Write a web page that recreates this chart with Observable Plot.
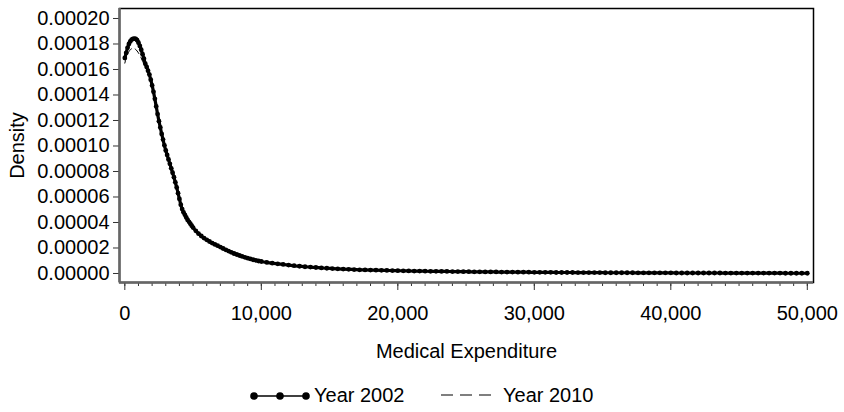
<!DOCTYPE html>
<html>
<head>
<meta charset="utf-8">
<script src="https://cdn.jsdelivr.net/npm/d3@7"></script>
<script src="https://cdn.jsdelivr.net/npm/@observablehq/plot@0.6"></script>
<style>
  html, body { margin: 0; padding: 0; background: #fff; }
  #wrap { position: relative; width: 844px; height: 412px; font-family: "Liberation Sans", Arial, sans-serif; }
  #legend { position: relative; width: 844px; height: 37px; font-size: 20px; color: #000; }
  #legend .lab { position: absolute; top: 8px; line-height: 24px; }
  #legend svg { position: absolute; }
</style>
</head>
<body>
<div id="wrap">
  <div id="chart"></div>
  <div id="legend">
    <svg style="left:249px;top:16px" width="64" height="10">
      <line x1="5" y1="5" x2="58" y2="5" stroke="#000" stroke-width="1.5"/>
      <circle cx="5" cy="5" r="3.8" fill="#000"/>
      <circle cx="31" cy="5" r="3.8" fill="#000"/>
      <circle cx="57" cy="5" r="3.8" fill="#000"/>
    </svg>
    <span class="lab" style="left:314px">Year 2002</span>
    <svg style="left:440px;top:16px" width="60" height="10">
      <line x1="1" y1="4" x2="56" y2="4" stroke="#000" stroke-width="1.2" stroke-dasharray="12,7"/>
    </svg>
    <span class="lab" style="left:503px">Year 2010</span>
  </div>
</div>
<script>
// Evaluation grid of medical expenditure (US$)
const expenditure2002 = [
  ...d3.range(0, 5000, 100),
  ...d3.range(5000, 10000, 200),
  ...d3.range(10000, 50001, 400)
];
// Density ×10^4, Year 2002
const density2002E4 = [
  1.69,1.73,1.77,1.80,1.82,1.835,1.84,1.842,1.84,1.83,
  1.81,1.785,1.755,1.72,1.685,1.645,1.62,1.59,1.56,1.52,
  1.475,1.425,1.37,1.31,1.25,1.195,1.145,1.095,1.05,1.005,
  0.965,0.93,0.895,0.86,0.825,0.79,0.755,0.715,0.675,0.63,
  0.585,0.54,0.505,0.48,0.46,0.44,0.42,0.405,0.39,0.375,
  0.36,0.335,0.312,0.294,0.278,0.264,0.251,0.239,0.228,0.218,
  0.207,0.196,0.186,0.176,0.166,0.157,0.149,0.141,0.134,0.127,
  0.12,0.114,0.108,0.103,0.098,
  0.094,0.087,0.081,0.076,0.071,0.066,0.061,0.057,0.053,0.050,
  0.047,0.044,0.041,0.039,0.037,0.035,0.033,0.031,0.029,0.028,
  0.027,0.026,0.025,0.024,0.023,0.022,0.021,0.020,0.019,0.019,
  0.018,0.017,0.017,0.016,0.016,0.015,0.015,0.014,0.014,0.013,
  0.013,0.012,0.012,0.012,0.011,0.011,0.011,0.010,0.010,0.010,
  0.009,0.009,0.009,0.009,0.008,0.008,0.008,0.008,0.007,0.007,
  0.007,0.007,0.007,0.006,0.006,0.006,0.006,0.006,0.006,0.005,
  0.005,0.005,0.005,0.005,0.005,0.005,0.004,0.004,0.004,0.004,
  0.004,0.004,0.004,0.004,0.004,0.003,0.003,0.003,0.003,0.003,
  0.003,0.003,0.003,0.003,0.003,0.003,0.002,0.002,0.002,0.002,
  0.002
];
// Year 2010
const expenditure2010 = [0,100,200,300,400,500,600,700,800,900,1000,1100,1200,1300,1400,1500,1600,1700,1800,1900,2000,
  2200,2400,2600,2800,3000,3400,3800,4200,4600,5000,6000,7000,8000,9000,10000,
  12000,14000,16000,18000,20000,25000,30000,35000,40000,45000,50000];
const density2010E4 = [
  1.65,1.69,1.72,1.74,1.755,1.763,1.766,1.764,1.757,1.745,
  1.73,1.71,1.69,1.665,1.645,1.632,1.62,1.59,1.56,1.52,
  1.475,1.37,1.25,1.145,1.05,0.965,0.825,0.675,0.505,0.42,
  0.36,0.264,0.207,0.157,0.12,0.094,0.066,0.047,0.035,0.027,
  0.022,0.0145,0.0095,0.0068,0.005,0.0035,0.0022
];
const xTicks = [0, 10000, 20000, 30000, 40000, 50000];
const xMinorTicks = d3.range(0, 50001, 1000);
const yTicks = [0, 0.00002, 0.00004, 0.00006, 0.00008, 0.00010, 0.00012, 0.00014, 0.00016, 0.00018, 0.00020];

const d2002 = expenditure2002.map((x, i) => ({x, y: density2002E4[i] / 1e4}));
const d2010 = expenditure2010.map((x, i) => ({x, y: density2010E4[i] / 1e4}));

const xDomain = [-390, 50454];
const yDomain = [-0.00000706, 0.00020784];

const chart = Plot.plot({
  width: 844,
  height: 375,
  marginTop: 8,
  marginBottom: 93,
  marginLeft: 119,
  marginRight: 31,
  style: { fontFamily: "'Liberation Sans', Arial, sans-serif", fontSize: "20px", color: "#000", background: "#fff", overflow: "visible" },
  x: { domain: xDomain },
  y: { domain: yDomain },
  marks: [
    Plot.axisY({ ticks: yTicks, tickSize: 6, tickPadding: 4, tickFormat: d3.format(".5f"), stroke: "#333",
      label: "Density", labelAnchor: "center", labelArrow: false, labelOffset: 110 }),
    Plot.axisX({ ticks: xMinorTicks, tickSize: 4, tickFormat: () => "", stroke: "#333", label: null }),
    Plot.axisX({ ticks: xTicks, tickSize: 8, tickPadding: 15, tickFormat: d3.format(","), stroke: "#333",
      label: "Medical Expenditure", labelAnchor: "center", labelArrow: false, labelOffset: 75 }),
    Plot.frame({ stroke: "#000", strokeWidth: 1.5 }),
    Plot.ruleX([xDomain[0]], { stroke: "#666", strokeWidth: 2.5 }),
    Plot.ruleY([yDomain[0]], { stroke: "#666", strokeWidth: 2.5 }),
    Plot.line(d2010, { x: "x", y: "y", stroke: "#000", strokeWidth: 1, strokeDasharray: "6,4", curve: "monotone-x" }),
    Plot.line(d2002, { x: "x", y: "y", stroke: "#000", strokeWidth: 3.2, curve: "monotone-x" }),
    Plot.dot(d2002, { x: "x", y: "y", r: 2.4, fill: "#000", stroke: "none" })
  ]
});
document.getElementById("chart").appendChild(chart);
</script>
</body>
</html>
